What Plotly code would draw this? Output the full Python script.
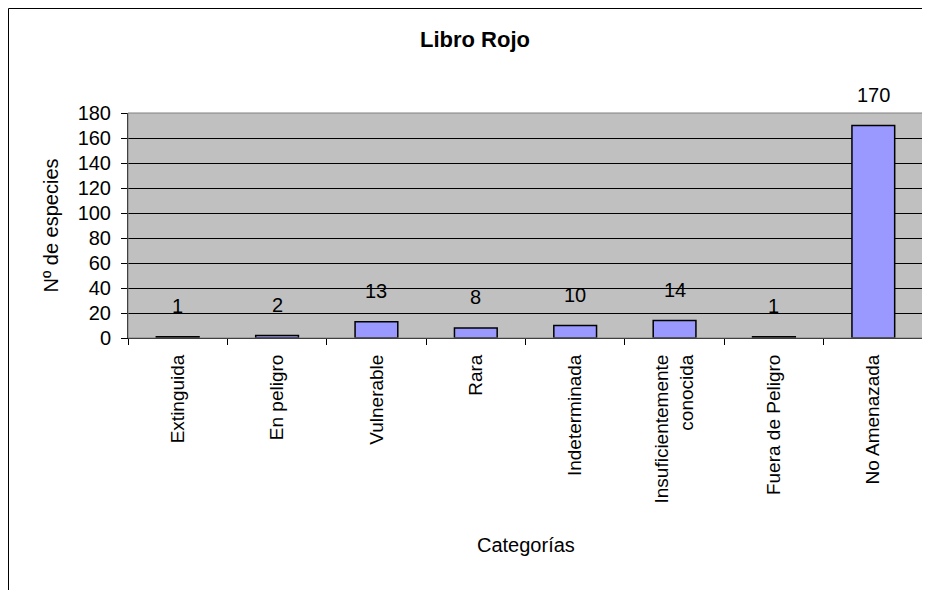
import plotly.graph_objects as go

categories = ["Extinguida", "En peligro", "Vulnerable", "Rara", "Indeterminada",
              "Insuficientemente<br>conocida", "Fuera de Peligro", "No Amenazada"]
values = [1, 2, 13, 8, 10, 14, 1, 170]
y_ticks = [0, 20, 40, 60, 80, 100, 120, 140, 160, 180]

title_text = "Libro Rojo"
x_title = "Categorías"
y_title = "Nº de especies"

FONT = "Liberation Sans, Arial, sans-serif"

# plot area in figure pixels (page is offset by the 8px body margin)
L, R, T, B = 120, 915, 105, 330
W, H = 930, 590
PW, PH = R - L, B - T

fig = go.Figure()
fig.add_trace(go.Bar(
    x=categories, y=values,
    marker=dict(color="#9999FF", line=dict(color="black", width=1.5)),
    hoverinfo="x+y",
))

annotations = []
for c, v in zip(categories, values):
    annotations.append(dict(x=c, y=v, xref="x", yref="y", text=str(v), showarrow=False,
                            yanchor="bottom", yshift=18,
                            font=dict(family=FONT, size=20, color="black")))
annotations.append(dict(x=0.5, y=(B - 537) / PH, xref="paper", yref="paper", text=x_title,
                        showarrow=False, yanchor="middle", xanchor="center",
                        font=dict(family=FONT, size=20, color="black")))
annotations.append(dict(x=(42 - L) / PW, y=0.5, xref="paper", yref="paper", text=y_title,
                        showarrow=False, textangle=-90, yanchor="middle", xanchor="center",
                        font=dict(family=FONT, size=20, color="black")))

fig.update_layout(
    width=W, height=H,
    margin=dict(l=L, r=W - R, t=T, b=H - B),
    paper_bgcolor="white",
    plot_bgcolor="#C0C0C0",
    showlegend=False,
    bargap=0.57,
    title=dict(text="<b>" + title_text + "</b>", x=467 / W, y=1 - 31 / H,
               xref="container", yref="container", xanchor="center", yanchor="middle",
               font=dict(family=FONT, size=22, color="black")),
    font=dict(family=FONT, size=20, color="black"),
    annotations=annotations,
    shapes=[
        dict(type="rect", xref="paper", yref="paper", x0=0, x1=1, y0=0, y1=1,
             line=dict(color="#808080", width=1), layer="above"),
        dict(type="rect", xref="paper", yref="paper",
             x0=(0.5 - L) / PW, x1=(W + 20 - L) / PW,
             y0=(B - H - 20) / PH, y1=(B - 0.5) / PH,
             line=dict(color="black", width=1), layer="above"),
    ],
)

fig.update_xaxes(
    type="category", tickson="boundaries", ticks="outside", ticklen=6, tickcolor="black",
    showline=True, linecolor="black", linewidth=1, tickangle=-90,
    tickfont=dict(family=FONT, size=19, color="black"), ticklabelstandoff=8,
    showgrid=False,
)
fig.update_yaxes(
    range=[0, 180], tickvals=y_ticks, ticks="outside", ticklen=6, tickcolor="black",
    showline=True, linecolor="black", linewidth=1,
    showgrid=True, gridcolor="black", gridwidth=1, zeroline=False,
    tickfont=dict(family=FONT, size=20, color="black"), ticklabelstandoff=6,
)

fig.write_html("out.html")
